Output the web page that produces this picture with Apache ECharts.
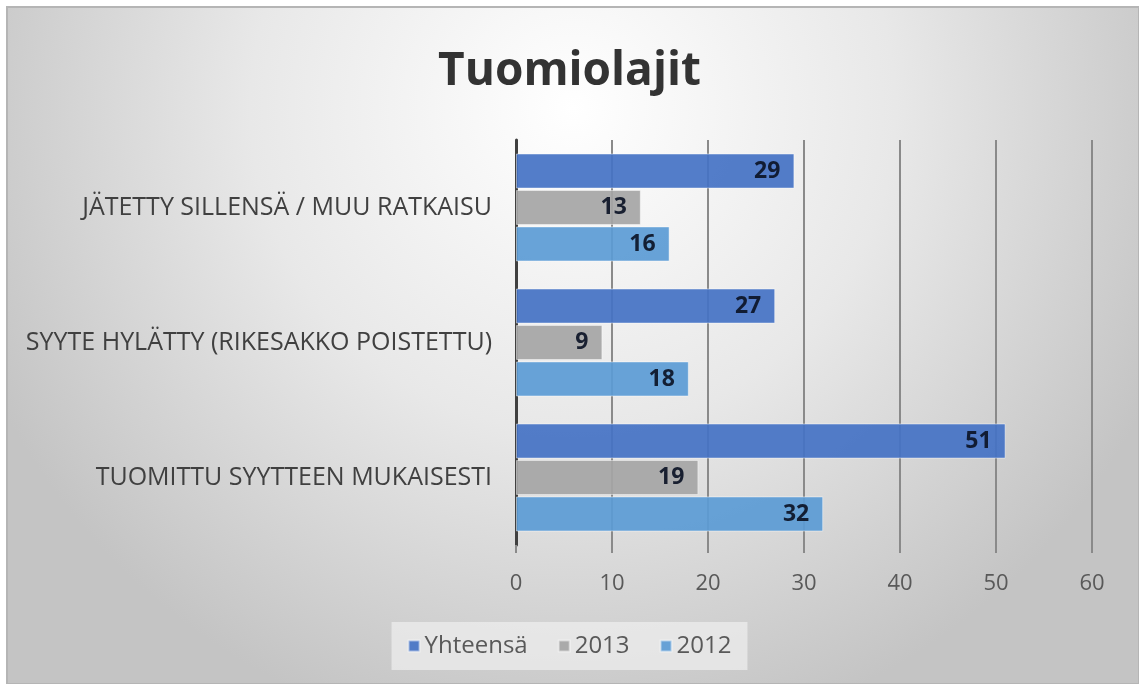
<!DOCTYPE html>
<html>
<head>
<meta charset="utf-8">
<script src="https://cdn.jsdelivr.net/npm/echarts@6/dist/echarts.min.js"></script>
<style>
html, body { margin: 0; padding: 0; background: #fff; }
#chart { width: 1139px; height: 684px; }
</style>
</head>
<body>
<div id="chart"></div>
<script>
var categories = ['TUOMITTU SYYTTEEN MUKAISESTI', 'SYYTE HYLÄTTY (RIKESAKKO POISTETTU)', 'JÄTETTY SILLENSÄ / MUU RATKAISU'];
var yhteensa = [51, 27, 29];
var v2013 = [19, 9, 13];
var v2012 = [32, 18, 16];
var xTicks = [0, 10, 20, 30, 40, 50, 60];

var chart = echarts.init(document.getElementById('chart'));
var font = '"Open Sans", "Noto Sans", sans-serif';

var barLabel = {
    show: true,
    position: 'insideRight',
    distance: 14,
    color: '#0c1326',
    fontWeight: 'bold',
    fontSize: 23,
    fontFamily: font
};

var option = {
    textStyle: { fontFamily: font },
    graphic: [{
        type: 'rect',
        z: -10,
        silent: true,
        shape: { x: 7, y: 7, width: 1132, height: 677 },
        style: {
            fill: {
                type: 'radial', x: 0.5, y: 0.15, r: 0.95,
                colorStops: [
                    { offset: 0, color: '#ffffff' },
                    { offset: 0.5, color: '#e8e8e8' },
                    { offset: 1, color: '#c4c4c4' }
                ]
            },
            stroke: '#b5b5b5',
            lineWidth: 2
        }
    }],
    title: {
        text: 'Tuomiolajit',
        left: 'center',
        top: 44,
        textStyle: { fontSize: 46, fontWeight: 'bold', color: '#333', fontFamily: font }
    },
    legend: {
        data: ['Yhteensä', '2013', '2012'],
        bottom: 14,
        left: 'center',
        icon: 'rect',
        itemWidth: 11,
        itemHeight: 11,
        itemGap: 30,
        padding: [12, 16],
        backgroundColor: 'rgba(240,240,240,0.7)',
        textStyle: { fontSize: 24, color: '#595959', fontFamily: font }
    },
    grid: { left: 516, right: 47, top: 140, bottom: 139 },
    xAxis: {
        type: 'value',
        min: 0,
        max: 60,
        interval: 10,
        axisLine: { show: false },
        axisTick: { show: true, length: 8, lineStyle: { color: '#8a8a8a', width: 2 } },
        axisLabel: {
            fontSize: 22, color: '#595959', margin: 28, fontFamily: font,
            formatter: function (v) { return xTicks.indexOf(v) >= 0 ? String(v) : ''; }
        },
        splitLine: { show: true, lineStyle: { color: '#8a8a8a', width: 2 } }
    },
    yAxis: {
        type: 'category',
        data: categories,
        axisLine: { show: true, lineStyle: { color: '#404040', width: 3 } },
        axisTick: { show: false },
        axisLabel: { fontSize: 25, color: '#404040', margin: 24, fontFamily: font }
    },
    series: [
        { name: 'Yhteensä', type: 'bar', data: yhteensa, barGap: '4%', barCategoryGap: '20%',
          itemStyle: { color: '#4472C4', opacity: 0.92, borderColor: 'rgba(255,255,255,0.5)', borderWidth: 1 },
          label: barLabel },
        { name: '2013', type: 'bar', data: v2013,
          itemStyle: { color: '#A5A5A5', opacity: 0.92, borderColor: 'rgba(255,255,255,0.5)', borderWidth: 1 },
          label: barLabel },
        { name: '2012', type: 'bar', data: v2012,
          itemStyle: { color: '#5B9BD5', opacity: 0.92, borderColor: 'rgba(255,255,255,0.5)', borderWidth: 1 },
          label: barLabel }
    ]
};

chart.setOption(option);

window.addEventListener('resize', function () {
    chart.resize();
});
</script>
</body>
</html>
